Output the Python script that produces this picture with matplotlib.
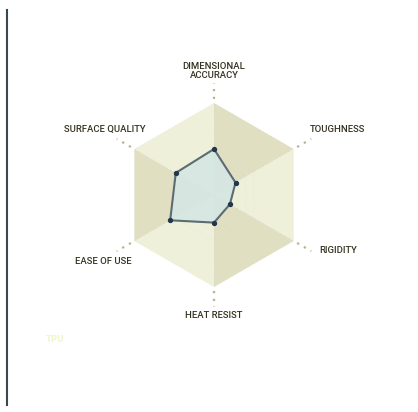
import matplotlib.pyplot as plt
import numpy as np

# ----------
# DATA

categories = ["DIMENSIONAL\nACCURACY", "TOUGHNESS", "RIGIDITY",
              "HEAT RESIST", "EASE OF USE", "SURFACE QUALITY"]
values = [5.0, 2.7, 2.0, 3.0, 5.5, 4.8]
max_value = 10
material = "TPU"

# ----------
# LAYOUT (pixel space)

CX, CY = 214, 195
R = 92
LIGHT = "#eef0da"
DARK = "#e1dfc2"
LABEL_COL = "#35321f"

n = len(categories)
theta = np.arange(n) * 2 * np.pi / n   # clockwise from top


def to_xy(r, t):
    return CX + r * np.sin(t), CY - r * np.cos(t)


fig = plt.figure(figsize=(4.18, 4.12), dpi=100)
ax = fig.add_axes([0, 0, 1, 1])
ax.set_xlim(0, 418)
ax.set_ylim(412, 0)
ax.set_aspect("equal")
ax.axis("off")

# alternating hexagon sectors
for i in range(n):
    x1, y1 = to_xy(R, theta[i])
    x2, y2 = to_xy(R, theta[(i + 1) % n])
    col = DARK if i % 2 == 0 else LIGHT
    ax.fill([CX, x1, x2], [CY, y1, y2], color=col, lw=0, zorder=1)

# faint inner rings (only near the centre, barely visible)
for k in range(1, 6):
    r = R * k / 10
    xs, ys = to_xy(r, np.append(theta, theta[0]))
    ax.plot(xs, ys, color="#c4d0c8", lw=0.4, ls=(0, (1, 3)), alpha=0.5, zorder=2)

# axis lines: faint inside, dotted outside
for t in theta:
    xi, yi = to_xy(np.array([0, R]), t)
    ax.plot(xi, yi, color="#d6d9c4", lw=0.6, ls=(0, (1, 3)), zorder=2)
    xo, yo = to_xy(np.array([R + 4, R * 1.22]), t)
    ax.plot(xo, yo, color="#b9b48a", lw=1.6, ls=(0, (1, 2.5)), zorder=2)

# data polygon
vals = np.array(values) / max_value * R
px, py = to_xy(vals, theta)
ax.fill(px, py, color="#d5e6e3", alpha=0.9, lw=0, zorder=3)
ax.plot(np.append(px, px[0]), np.append(py, py[0]), color="#5d6b72", lw=1.5, zorder=4)
ax.scatter(px, py, s=8, color="#22384a", zorder=5)

# labels
label_pos = [(214, 71), (338, 129), (338, 250), (214, 315), (103, 261), (105, 129)]
for (lx, ly), name in zip(label_pos, categories):
    ax.text(lx, ly, name, ha="center", va="center", fontsize=6.8,
            fontfamily="Roboto", fontweight="medium", color=LABEL_COL,
            linespacing=0.95)

ax.text(55, 340, material, ha="center", va="center", fontsize=6,
        fontweight="bold", color="#f1f6d0")

# left border line
ax.plot([7, 7], [10, 405], color="#3a4651", lw=1.5)

fig.savefig("out.png", dpi=100)
